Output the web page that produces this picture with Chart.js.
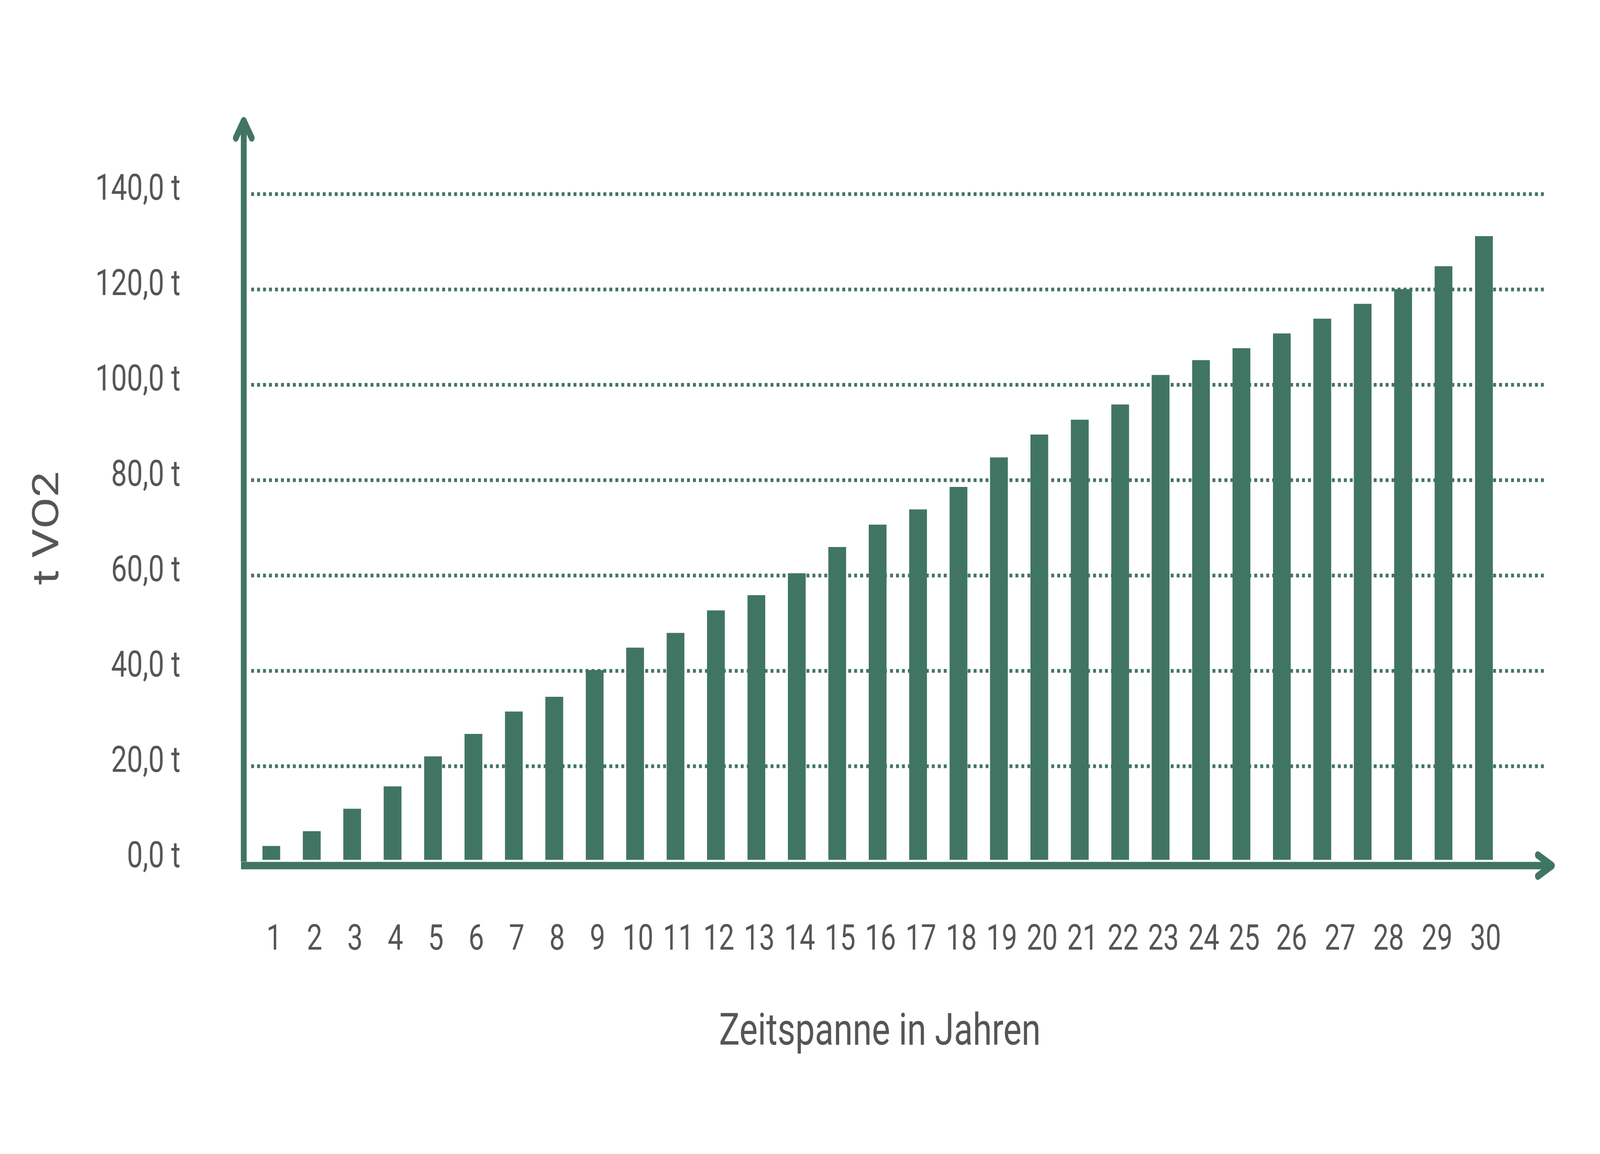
<!DOCTYPE html>
<html lang="de">
<head>
<meta charset="UTF-8" />
<title>t VO2 – Zeitspanne in Jahren</title>
<style>
  html, body { margin: 0; padding: 0; background: #fff; overflow: hidden; }
  /* drawn at 5225 x 2953, shown at whatever size the window has */
  #chart { display: block; }
</style>
</head>
<body>
<canvas id="chart" width="5225" height="2953" style="width:100vw;height:100vh"></canvas>

<script src="https://cdn.jsdelivr.net/npm/chart.js"></script>
<script>
  // values (31 bars, 30 year labels)
  const yearLabels = ['1','2','3','4','5','6','7','8','9','10','11','12','13','14','15',
                      '16','17','18','19','20','21','22','23','24','25','26','27','28','29','30'];
  const emissions = [3.3, 6.4, 11.1, 15.8, 22.1, 26.8, 31.5, 34.6, 40.2, 44.9,
                     48.0, 52.7, 55.9, 60.5, 66.0, 70.7, 73.9, 78.6, 84.8, 89.6,
                     92.7, 95.9, 102.1, 105.2, 107.7, 110.8, 113.9, 117.0, 120.1, 124.9, 131.2];
  const yTicks = [0, 20, 40, 60, 80, 100, 120, 140];

  const GREEN = '#417563';
  const GREY = '#555555';
  const FONT = 'Roboto, "Liberation Sans", sans-serif';

  // axis lines with arrow heads + x title centred under the labels
  const axisArrows = {
    id: 'axisArrows',
    afterDatasetsDraw(chart) {
      const ctx = chart.ctx;
      const a = chart.chartArea;
      const x0 = a.left - 24;
      const y0 = a.bottom + 10;
      ctx.save();
      ctx.strokeStyle = GREEN;
      ctx.lineWidth = 19;
      ctx.lineCap = 'butt';
      ctx.beginPath();
      ctx.moveTo(x0, a.bottom);
      ctx.lineTo(x0, a.top - 192);
      ctx.stroke();
      ctx.beginPath();
      ctx.moveTo(x0 - 9, y0);
      ctx.lineTo(a.right + 28, y0);
      ctx.stroke();
      ctx.lineCap = 'round';
      ctx.lineJoin = 'round';
      const topY = a.top - 188;
      ctx.beginPath();
      ctx.moveTo(x0 - 26, topY + 44);
      ctx.lineTo(x0, topY);
      ctx.lineTo(x0 + 26, topY + 44);
      ctx.stroke();
      const tipX = a.right + 24;
      ctx.beginPath();
      ctx.moveTo(tipX - 46, y0 - 27);
      ctx.lineTo(tipX, y0);
      ctx.lineTo(tipX - 46, y0 + 27);
      ctx.stroke();

      const xs = chart.scales.x;
      const first = xs.getPixelForTick(0);
      const last = xs.getPixelForTick(xs.ticks.length - 1);
      ctx.fillStyle = GREY;
      ctx.font = '113px ' + FONT;
      ctx.textAlign = 'center';
      ctx.textBaseline = 'middle';
      ctx.fillText('Zeitspanne in Jahren', (first + last) / 2, a.bottom + 440);
      ctx.restore();
    }
  };

  const ctx = document.getElementById('chart').getContext('2d');
  new Chart(ctx, {
    type: 'bar',
    data: {
      datasets: [{
        label: 't VO2',
        data: emissions.map((v, i) => ({ x: i, y: v })),
        backgroundColor: GREEN,
        borderWidth: 0,
        barPercentage: 0.44,
        categoryPercentage: 1
      }]
    },
    options: {
      responsive: false,
      devicePixelRatio: 1,
      animation: false,
      layout: { padding: { top: 497, right: 181, bottom: 0, left: 0 } },
      plugins: {
        legend: { display: false },
        tooltip: { enabled: false }
      },
      scales: {
        x: {
          type: 'linear',
          min: -0.5,
          max: 31.5,
          offset: false,
          bounds: 'data',
          grid: { display: false, drawTicks: false },
          border: { display: false },
          afterFit(scale) { scale.height = 2953 - 2205; },
          // labels 1-25 sit under their bars, 26-30 are spread over the last six bars
          afterBuildTicks(scale) {
            scale.ticks = yearLabels.map((l, i) => ({ value: i < 25 ? i + 0.07 : 25.24 + (i - 25) * 1.2 }));
          },
          ticks: {
            autoSkip: false,
            maxRotation: 0,
            padding: 148,
            color: GREY,
            font: { family: FONT, size: 90 },
            callback: (value, index) => yearLabels[index]
          }
        },
        y: {
          min: 0,
          max: 140,
          afterBuildTicks(scale) {
            scale.ticks = yTicks.map(v => ({ value: v }));
          },
          afterFit(scale) { scale.width = 820; },
          grid: {
            drawTicks: false,
            lineWidth: 9.5,
            color: c => (c.tick && c.tick.value === 0) ? 'rgba(0,0,0,0)' : GREEN
          },
          border: { display: false, dash: [9.5, 10] },
          ticks: {
            padding: 231,
            labelOffset: -9,
            color: GREY,
            font: { family: FONT, size: 92 },
            callback: v => v.toFixed(1).replace('.', ',') + ' t'
          },
          title: {
            display: true,
            text: 't VO2',
            color: GREY,
            font: { family: FONT, size: 118 },
            padding: { top: 90, bottom: 0 }
          }
        }
      }
    },
    plugins: [axisArrows]
  });
</script>
</body>
</html>
